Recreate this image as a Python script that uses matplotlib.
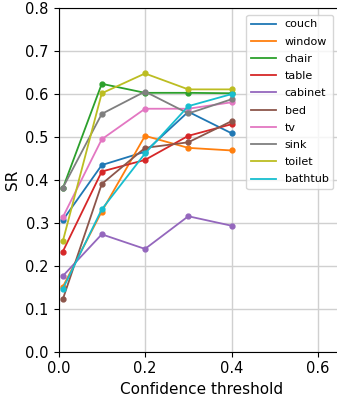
import matplotlib
matplotlib.use("Agg")
import matplotlib.pyplot as plt
from matplotlib.lines import Line2D

thresholds = [0.01, 0.1, 0.2, 0.3, 0.4]

couch = [0.306, 0.434, 0.465, 0.558, 0.508]
window = [0.151, 0.326, 0.502, 0.474, 0.468]
chair = [0.380, 0.623, 0.602, 0.602, 0.601]
table = [0.233, 0.419, 0.446, 0.502, 0.529]
cabinet = [0.176, 0.273, 0.239, 0.315, 0.293]
bed = [0.122, 0.390, 0.474, 0.487, 0.536]
tv = [0.313, 0.494, 0.565, 0.565, 0.580]
sink = [0.381, 0.553, 0.605, 0.554, 0.587]
toilet = [0.257, 0.601, 0.647, 0.610, 0.610]
bathtub = [0.146, 0.331, 0.461, 0.571, 0.599]

series = [
    ("couch", couch), ("window", window), ("chair", chair), ("table", table),
    ("cabinet", cabinet), ("bed", bed), ("tv", tv), ("sink", sink),
    ("toilet", toilet), ("bathtub", bathtub),
]

fig = plt.figure(figsize=(3.37, 3.98), dpi=100)
# the plot area runs slightly past the right edge of the canvas
ax = fig.add_axes([0.1736, 0.1163, 285.5 / 337, 0.8644])

handles = []
for name, vals in series:
    line, = ax.plot(thresholds, vals, marker="o", markersize=3.5, linewidth=1.3)
    handles.append(Line2D([], [], color=line.get_color(), linewidth=1.3, label=name))

ax.set_xlim(0, 0.66)
ax.set_ylim(0, 0.8)
ax.set_xticks([0.0, 0.2, 0.4, 0.6])
ax.grid(True, color="#d0d0d0", linewidth=1)
ax.set_axisbelow(True)
ax.tick_params(labelsize=10.5)
ax.set_xlabel("Confidence threshold", fontsize=11)
ax.set_ylabel("SR", fontsize=11)
ax.legend(handles=handles, loc="upper right", fontsize=8, labelspacing=0.65,
          handlelength=2.25,
          bbox_to_anchor=(333 / 337, 1 - 15 / 398),
          bbox_transform=fig.transFigure, borderaxespad=0)

fig.savefig("out.png", dpi=100)
